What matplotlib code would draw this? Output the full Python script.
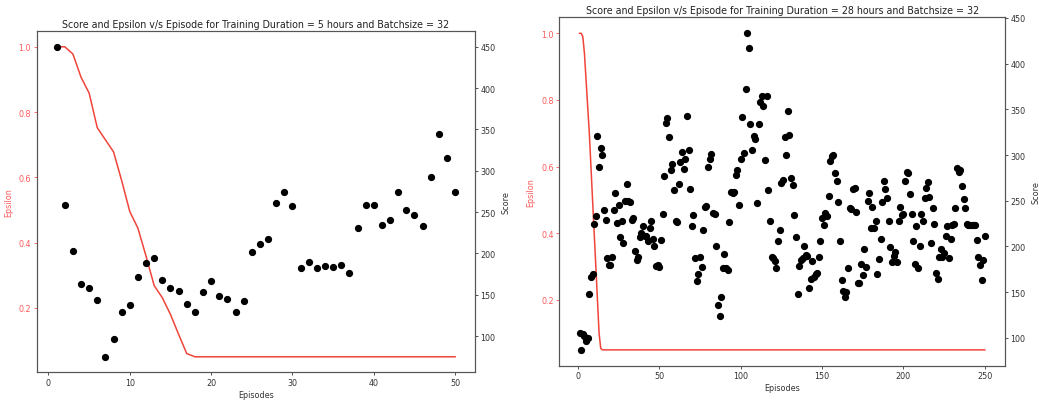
import matplotlib
matplotlib.use("Agg")
import matplotlib.pyplot as plt

# ---------------- data ----------------
titles = ["Score and Epsilon v/s Episode for Training Duration = 5 hours and Batchsize = 32",
          "Score and Epsilon v/s Episode for Training Duration = 28 hours and Batchsize = 32"]

# left chart (5 hours): 50 episodes
eps_episodes_5h = list(range(1, 51))
epsilon_5h = [1.0, 1.0, 0.978, 0.907, 0.858, 0.752, 0.715, 0.678, 0.59, 0.495,
              0.444, 0.358, 0.268, 0.231, 0.18, 0.119, 0.06] + [0.05] * 33
score_episodes_5h = list(range(1, 51))
scores_5h = [450, 259, 203, 163, 158, 144, 75, 97, 129, 138,
             172, 189, 195, 168, 158, 155, 139, 129, 153, 167,
             149, 145, 129, 142, 202, 212, 218, 261, 274, 257,
             182, 190, 182, 185, 184, 186, 176, 231, 259, 259,
             235, 241, 274, 252, 246, 233, 292, 344, 315, 274]

# right chart (28 hours): 250 episodes
eps_episodes_28h = list(range(1, 251))
epsilon_28h = [1.0, 1.0, 0.99, 0.94, 0.86, 0.78, 0.70, 0.60, 0.50, 0.40,
               0.30, 0.20, 0.10, 0.055] + [0.05] * 236
score_episodes_28h = list(range(1, 251))
scores_28h = [105, 87, 104, 102, 97, 100, 148, 167, 170, 225,
              233, 321, 287, 308, 300, 240, 229, 187, 180, 180,
              189, 240, 258, 226, 245, 210, 228, 204, 250, 268,
              250, 249, 229, 231, 195, 185, 189, 210, 215, 222,
              212, 211, 206, 220, 228, 208, 200, 179, 180, 178,
              207, 235, 277, 335, 340, 320, 284, 290, 262, 228,
              227, 268, 292, 303, 285, 296, 343, 305, 263, 222,
              234, 187, 162, 170, 188, 178, 218, 243, 244, 287,
              296, 301, 237, 236, 201, 136, 124, 145, 177, 192,
              177, 174, 227, 260, 258, 260, 278, 284, 245, 296,
              341, 302, 372, 433, 417, 334, 306, 321, 317, 248,
              334, 358, 364, 354, 294, 364, 262, 228, 189, 187,
              184, 177, 206, 218, 269, 273, 320, 300, 348, 322,
              275, 267, 234, 210, 148, 179, 185, 187, 201, 191,
              190, 155, 164, 184, 167, 170, 171, 189, 206, 231,
              224, 237, 233, 255, 293, 299, 300, 280, 272, 249,
              206, 163, 151, 145, 150, 176, 242, 241, 263, 264,
              238, 160, 160, 181, 169, 197, 178, 250, 259, 220,
              243, 220, 228, 170, 186, 208, 249, 272, 263, 253,
              228, 199, 183, 190, 194, 183, 228, 243, 234, 236,
              272, 281, 280, 257, 236, 206, 181, 222, 177, 200,
              236, 228, 253, 264, 271, 254, 204, 242, 225, 171,
              164, 189, 197, 189, 193, 212, 222, 187, 208, 224,
              225, 242, 286, 281, 284, 266, 252, 242, 225, 224,
              224, 224, 224, 224, 207, 189, 180, 163, 185, 212]

x_ticks_5h = [0, 10, 20, 30, 40, 50]
x_ticks_28h = [0, 50, 100, 150, 200, 250]

# ---------------- style ----------------
LINE_RED = "#f0443a"
TEXT_RED = "#ff5a5a"
TICK_FS = 5.8
LABEL_FS = 5.8
TITLE_FS = 6.85
SPINE_C = "#555555"

fig = plt.figure(figsize=(10.39, 4.02), dpi=100)

positions = [[0.0353, 0.0714, 0.4219, 0.8483],
             [0.5383, 0.0878, 0.4290, 0.8662]]

datasets = [
    (eps_episodes_5h, epsilon_5h, score_episodes_5h, scores_5h, x_ticks_5h),
    (eps_episodes_28h, epsilon_28h, score_episodes_28h, scores_28h, x_ticks_28h),
]

for pos, title, (ex, ey, sx, sy, xt) in zip(positions, titles, datasets):
    ax = fig.add_axes(pos)
    ax.plot(ex, ey, color=LINE_RED, linewidth=1.1)
    ax.set_xticks(xt)
    ax.set_xlabel("Episodes", fontsize=LABEL_FS, color="#333333", labelpad=2)
    ax.set_ylabel("Epsilon", fontsize=LABEL_FS, color=TEXT_RED, labelpad=4)
    ax.tick_params(axis="y", colors=TEXT_RED, labelsize=TICK_FS, length=2, width=0.6, pad=2)
    ax.tick_params(axis="x", colors="#333333", labelcolor="#333333", labelsize=TICK_FS, length=2, width=0.6, pad=2)
    ax.set_title(title, fontsize=TITLE_FS, color="#222222", pad=3)

    ax2 = ax.twinx()
    ax2.plot(sx, sy, "o", color="black", markersize=4.2, linestyle="none")
    ax2.set_ylabel("Score", fontsize=LABEL_FS, color="#333333", labelpad=4)
    ax2.tick_params(axis="y", colors="#333333", labelsize=TICK_FS, length=2, width=0.6, pad=2)
    ax2.set_yticks([100, 150, 200, 250, 300, 350, 400, 450])
    for a in (ax, ax2):
        for s in a.spines.values():
            s.set_color(SPINE_C)
            s.set_linewidth(0.8)
    lo, hi = ax2.get_ylim()
    ax2.set_ylim(lo, hi)
    ax.set_yticks([0.2, 0.4, 0.6, 0.8, 1.0])
    ax.set_ylim(0.0025, 1.0475)

fig.savefig("out.png", dpi=100)
